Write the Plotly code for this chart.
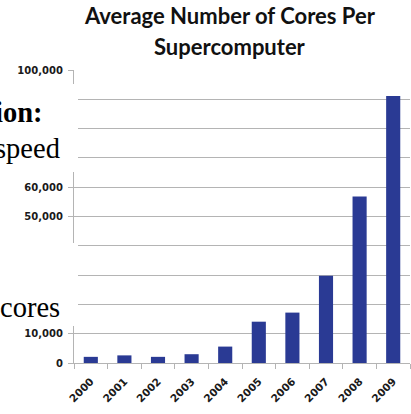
import plotly.graph_objects as go

# Average number of processor cores per supercomputer, by year
years = ["2000", "2001", "2002", "2003", "2004", "2005", "2006", "2007", "2008", "2009"]
avg_cores = [2100, 2600, 2100, 3000, 5600, 14100, 17200, 29800, 56800, 91100]

y_ticks = [0, 10000, 20000, 30000, 40000, 50000, 60000, 70000, 80000, 90000, 100000]
# labels under the slide's text boxes are left blank
y_tick_text = ["0", "10,000", "", "", "", "50,000", "60,000", "", "", "", "100,000"]

title_lines = ["Average Number of Cores Per", "Supercomputer"]

# slide text that sits on top of the chart's left edge
side_words = ["ion:", "speed", "cores"]

BAR = "#2a3a94"
GRID = "#b4b4b4"
TICK_FONT = dict(family="DejaVu Sans", size=10, color="#1a1a1a", weight="bold")

# plot area in pixels: x 74..410, y 70..363
PX_L, PX_W, PX_B, PX_H = 74, 336, 363, 293


def px(x):
    return (x - PX_L) / PX_W


def py(y):
    return (PX_B - y) / PX_H


fig = go.Figure(
    go.Bar(x=years, y=avg_cores, marker=dict(color=BAR, line=dict(width=0)))
)

fig.update_layout(
    width=411,
    height=414,
    margin=dict(l=74, r=1, t=70, b=51),
    paper_bgcolor="white",
    plot_bgcolor="white",
    bargap=0.58,
    showlegend=False,
)

fig.update_xaxes(
    type="category",
    tickangle=-45,
    tickfont=dict(TICK_FONT, size=10.5),
    showline=True,
    linecolor=GRID,
    linewidth=1.3,
    ticks="outside",
    tickson="boundaries",
    ticklen=5,
    tickcolor=GRID,
    showgrid=False,
    ticklabelstandoff=7,
)

fig.update_yaxes(
    range=[0, 100000],
    tickvals=y_ticks,
    ticktext=y_tick_text,
    tickfont=TICK_FONT,
    showline=True,
    linecolor=GRID,
    linewidth=1.3,
    ticks="outside",
    ticklen=5,
    tickcolor=GRID,
    showgrid=True,
    gridcolor=GRID,
    gridwidth=1.3,
    zeroline=False,
    ticklabelstandoff=3,
)

# chart title, two lines
title_font = dict(family="Lato", size=22, color="#111111", weight="bold")
for line, ypix in zip(title_lines, [16, 47]):
    fig.add_annotation(
        text=line, xref="paper", yref="paper", x=px(230), y=py(ypix),
        xanchor="center", yanchor="middle", showarrow=False, font=title_font,
    )

# white text boxes covering the left edge of the chart
for x1, y_top, y_bot in [(78, 84, 172), (78, 243, 326)]:
    fig.add_shape(
        type="rect", xref="paper", yref="paper",
        x0=px(0), x1=px(x1), y0=py(y_bot), y1=py(y_top),
        fillcolor="white", line=dict(width=0), layer="above",
    )

serif = dict(family="Liberation Serif", size=28.5, color="black")
for word, right, ypix, bold in [
    (side_words[0], 45, 112, True),
    (side_words[1], 62, 148, False),
    (side_words[2], 62, 307, False),
]:
    fig.add_annotation(
        text=f"<b>{word}</b>" if bold else word, xref="paper", yref="paper",
        x=px(right), y=py(ypix), xanchor="right", yanchor="middle",
        showarrow=False, font=serif,
    )

fig.write_html("out.html")
